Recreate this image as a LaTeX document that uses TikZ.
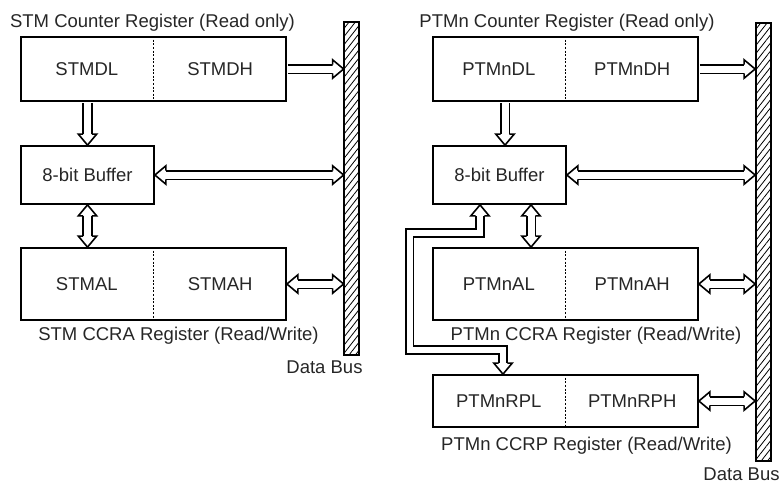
\documentclass[tikz,border=0pt]{standalone}
\usepackage{fontspec}
\setmainfont{Liberation Sans}
\usetikzlibrary{patterns.meta, positioning, calc}

\tikzset{
    regbox/.style={draw, line width=1.8pt, minimum width=265pt,
        minimum height=#1},
    bufbox/.style={draw, line width=1.8pt, minimum width=133pt,
        minimum height=58pt},
    busbar/.style={draw, line width=1.8pt, minimum width=15pt,
        minimum height=#1,
        pattern={Lines[angle=52,distance=5pt,line width=0.8pt]}},
    divider/.style={line width=1.4pt, dash pattern=on 2pt off 1.6pt},
    fatline/.style={double=white, double distance=7pt,
        line width=1.6pt, line join=miter},
    pics/tip/.style={code={
        \filldraw[fill=white, line width=1.6pt, line join=miter]
            (-11,4.3) -- (-11,9.2) -- (0,0) -- (-11,-9.2) -- (-11,-4.3);
    }}
}

\begin{document}
\begin{tikzpicture}[x=1pt, y=-1pt,
    every node/.style={font=\fontsize{18.5}{22}\selectfont,
        text=black!85, inner sep=0pt}]
    \useasboundingbox (0,0) rectangle (783,485);

    % STM side
    \node[regbox=64pt] (lcnt) at (153.5,69) {};
    \node[bufbox] (lbuf) at (87.5,175) {8-bit Buffer};
    \node[regbox=72pt] (lccra) at (153.5,284) {};
    \node[busbar=333pt] (lbus) at (351.5,188.5) {};

    \node (lcntl) at ($(lcnt.west)!.25!(lcnt.east)$) {STMDL};
    \node (lcnth) at ($(lcnt.west)!.75!(lcnt.east)$) {STMDH};
    \node (lccral) at ($(lccra.west)!.25!(lccra.east)$) {STMAL};
    \node (lccrah) at ($(lccra.west)!.75!(lccra.east)$) {STMAH};
    \draw[divider] (lcnt.north) -- (lcnt.south);
    \draw[divider] (lccra.north) -- (lccra.south);

    \node[anchor=base] (lcnttitle) at (152.5,27) {STM Counter Register (Read only)};
    \node[anchor=base] (lccratitle) at (178.5,340) {STM CCRA Register (Read/Write)};
    \node[anchor=base] (lbustitle) at (324.5,373) {Data Bus};

    \draw[fatline, shorten <=0.9pt, shorten >=8pt] (lcnt.east) -- (lcnt.east -| lbus.west);
    \pic at (lcnt.east -| lbus.west) {tip};
    \draw[fatline, shorten <=0.9pt, shorten >=8pt] (lcnt.south -| lbuf.north) -- (lbuf.north);
    \pic[rotate=-90] at (lbuf.north) {tip};
    \draw[fatline, shorten <=8pt, shorten >=8pt] (lbuf.east) -- (lbuf.east -| lbus.west);
    \pic[rotate=180] at (lbuf.east) {tip};
    \pic at (lbuf.east -| lbus.west) {tip};
    \draw[fatline, shorten <=8pt, shorten >=8pt] (lbuf.south) -- (lbuf.south |- lccra.north);
    \pic[rotate=90] at (lbuf.south) {tip};
    \pic[rotate=-90] at (lbuf.south |- lccra.north) {tip};
    \draw[fatline, shorten <=8pt, shorten >=8pt] (lccra.east) -- (lccra.east -| lbus.west);
    \pic[rotate=180] at (lccra.east) {tip};
    \pic at (lccra.east -| lbus.west) {tip};

    % PTMn side
    \node[regbox=64pt] (rcnt) at (565.5,69) {};
    \node[bufbox] (rbuf) at (499.5,175) {8-bit Buffer};
    \node[regbox=72pt] (rccra) at (565.5,284) {};
    \node[regbox=52pt] (rrpl) at (565.5,401) {};
    \node[busbar=438pt] (rbus) at (763.5,242) {};

    \node (rcntl) at ($(rcnt.west)!.25!(rcnt.east)$) {PTMnDL};
    \node (rcnth) at ($(rcnt.west)!.75!(rcnt.east)$) {PTMnDH};
    \node (rccral) at ($(rccra.west)!.25!(rccra.east)$) {PTMnAL};
    \node (rccrah) at ($(rccra.west)!.75!(rccra.east)$) {PTMnAH};
    \node (rrpll) at ($(rrpl.west)!.25!(rrpl.east)$) {PTMnRPL};
    \node (rrplh) at ($(rrpl.west)!.75!(rrpl.east)$) {PTMnRPH};
    \draw[divider] (rcnt.north) -- (rcnt.south);
    \draw[divider] (rccra.north) -- (rccra.south);
    \draw[divider] (rrpl.north) -- (rrpl.south);

    \node[anchor=base] (rcnttitle) at (567,27) {PTMn Counter Register (Read only)};
    \node[anchor=base] (rccratitle) at (596,340) {PTMn CCRA Register (Read/Write)};
    \node[anchor=base] (rrpltitle) at (586.5,450) {PTMn CCRP Register (Read/Write)};
    \node[anchor=base] (rbustitle) at (741.5,480.5) {Data Bus};

    \coordinate (rdown) at ([xshift=5.5pt]rbuf.north);
    \coordinate (rup) at ([xshift=-19.5pt]rbuf.south);
    \coordinate (rmid) at ([xshift=31.5pt]rbuf.south);
    \coordinate (rrpltop) at ([xshift=-62.5pt]rrpl.north);

    \draw[fatline, shorten <=0.9pt, shorten >=8pt] (rcnt.east) -- (rcnt.east -| rbus.west);
    \pic at (rcnt.east -| rbus.west) {tip};
    \draw[fatline, shorten <=0.9pt, shorten >=8pt] (rcnt.south -| rdown) -- (rdown);
    \pic[rotate=-90] at (rdown) {tip};
    \draw[fatline, shorten <=8pt, shorten >=8pt] (rbuf.east) -- (rbuf.east -| rbus.west);
    \pic[rotate=180] at (rbuf.east) {tip};
    \pic at (rbuf.east -| rbus.west) {tip};
    \draw[fatline, shorten <=8pt, shorten >=8pt] (rmid) -- (rmid |- rccra.north);
    \pic[rotate=90] at (rmid) {tip};
    \pic[rotate=-90] at (rmid |- rccra.north) {tip};
    \draw[fatline, shorten <=8pt, shorten >=8pt] (rccra.east) -- (rccra.east -| rbus.west);
    \pic[rotate=180] at (rccra.east) {tip};
    \pic at (rccra.east -| rbus.west) {tip};
    \draw[fatline, shorten <=8pt, shorten >=8pt] (rrpl.east) -- (rrpl.east -| rbus.west);
    \pic[rotate=180] at (rrpl.east) {tip};
    \pic at (rrpl.east -| rbus.west) {tip};

    % buffer to CCRP, round the CCRA register
    \draw[fatline, double distance=6pt, shorten <=8pt, shorten >=8pt]
        (rup) -- ++(0,28) -| (409.5,350) -| (rrpltop);
    \pic[rotate=90] at (rup) {tip};
    \pic[rotate=-90] at (rrpltop) {tip};

\end{tikzpicture}
\end{document}
